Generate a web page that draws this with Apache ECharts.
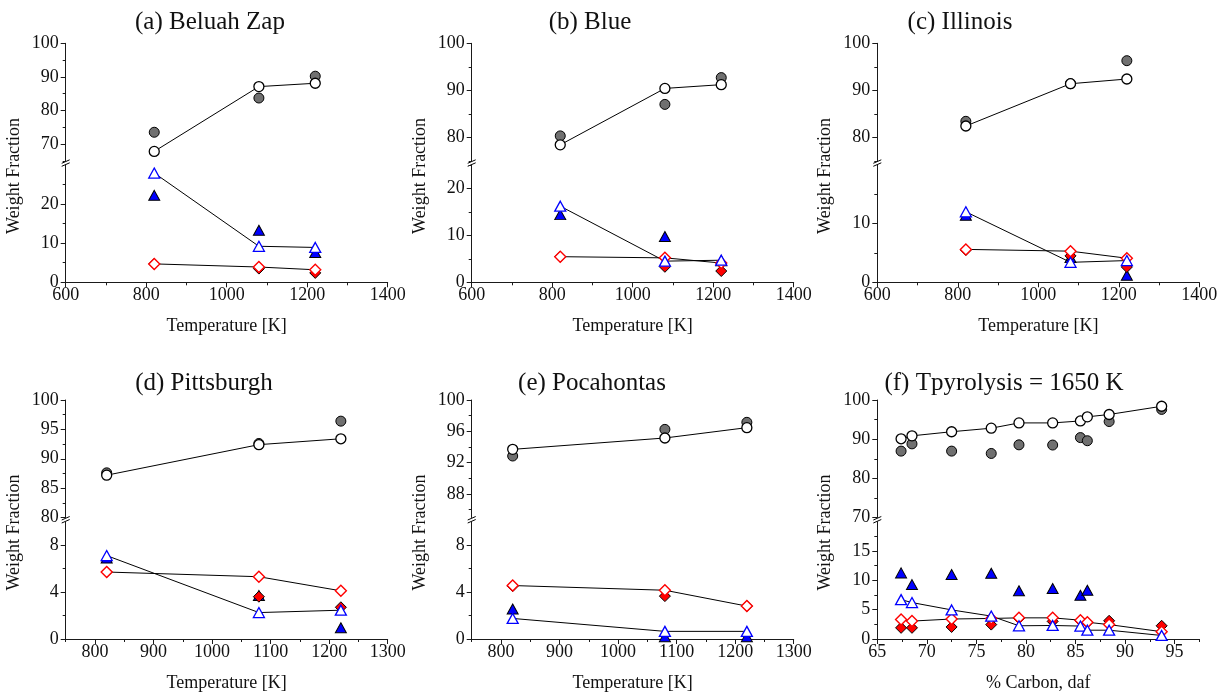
<!DOCTYPE html>
<html>
<head>
<meta charset="utf-8">
<script src="https://cdn.jsdelivr.net/npm/echarts@6/dist/echarts.min.js"></script>
<style>
  html, body { margin: 0; padding: 0; background: #fff; }
  #chart { width: 1224px; height: 695px; }
</style>
</head>
<body>
<div id="chart"></div>
<script>
// Run temperatures [K] and coal carbon contents [% daf]
const tempK = [820, 1080, 1220];
const carbonDaf = [67.4, 68.5, 72.5, 76.5, 79.3, 82.7, 85.5, 86.2, 88.4, 93.7];

// (a) Beluah Zap
const aCircleFilled = [73.5, 83.7, 90.2];
const aCircleOpen   = [67.8, 87.1, 88.1];
const aTriFilled    = [22.2, 13.3, 7.6];
const aTriOpen      = [27.9, 9.2, 8.9];
const aDiaFilled    = [4.7, 3.5, 2.4];
const aDiaOpen      = [4.7, 3.9, 3.2];
// (b) Blue
const bCircleFilled = [80.3, 87.0, 92.7];
const bCircleOpen   = [78.4, 90.4, 91.2];
const bTriFilled    = [14.4, 9.75, 4.6];
const bTriOpen      = [16.2, 4.5, 4.7];
const bDiaFilled    = [5.45, 3.3, 2.4];
const bDiaOpen      = [5.45, 5.2, 4.1];
// (c) Illinois
const cCircleFilled = [83.4, 91.4, 96.3];
const cCircleOpen   = [82.4, 91.4, 92.4];
const cTriFilled    = [11.4, 4.2, 1.2];
const cTriOpen      = [12.0, 3.4, 3.7];
const cDiaFilled    = [5.5, 4.5, 2.6];
const cDiaOpen      = [5.6, 5.3, 4.1];
// (d) Pittsburgh
const dCircleFilled = [87.6, 92.6, 96.4];
const dCircleOpen   = [87.2, 92.4, 93.4];
const dTriFilled    = [6.9, 3.7, 0.95];
const dTriOpen      = [7.1, 2.25, 2.45];
const dDiaFilled    = [5.7, 3.6, 2.7];
const dDiaOpen      = [5.7, 5.3, 4.1];
// (e) Pocahontas
const eCircleFilled = [92.85, 96.25, 97.15];
const eCircleOpen   = [93.7, 95.15, 96.47];
const eTriFilled    = [2.55, 0.2, 0.2];
const eTriOpen      = [1.75, 0.65, 0.65];
const eDiaFilled    = [4.5, 3.65, 2.8];
const eDiaOpen      = [4.55, 4.15, 2.8];
// (f) Tpyrolysis = 1650 K, against carbon content
const fCircleFilled = [86.95, 88.8, 86.95, 86.35, 88.55, 88.5, 90.4, 89.6, 94.5, 97.6];
const fCircleOpen   = [90.1, 90.85, 91.9, 92.8, 94.15, 94.15, 94.65, 95.7, 96.3, 98.4];
const fTriFilled    = [11.25, 9.26, 10.97, 11.2, 8.2, 8.6, 7.45, 8.3, null, null];
const fTriOpen      = [6.7, 6.2, 4.95, 3.9, 2.25, 2.3, 2.2, 1.5, 1.5, 0.6];
const fDiaFilled    = [1.9, 1.9, 2.05, 2.45, 3.5, 3.0, 3.1, 2.8, 3.1, 2.25];
const fDiaOpen      = [3.3, 3.05, 3.4, 3.5, 3.6, 3.6, 3.2, 2.85, 2.45, 1.25];

// Tick labels and minor tick positions
const tempTicksWide  = [600, 800, 1000, 1200, 1400];
const tempMinorWide  = [700, 900, 1100, 1300];
const tempTicksNarrow = [800, 900, 1000, 1100, 1200, 1300];
const tempMinorNarrow = [750, 850, 950, 1050, 1150, 1250];
const carbonTicks = [65, 70, 75, 80, 85, 90, 95];
const carbonMinor = [67.5, 72.5, 77.5, 82.5, 87.5, 92.5, 97.5];

const aUpperTicks = [70, 80, 90, 100], aUpperMinor = [65, 75, 85, 95];
const aLowerTicks = [0, 10, 20],       aLowerMinor = [5, 15, 25];
const bUpperTicks = [80, 90, 100],     bUpperMinor = [75, 85, 95];
const bLowerTicks = [0, 10, 20],       bLowerMinor = [5, 15, 25];
const cUpperTicks = [80, 90, 100],     cUpperMinor = [75, 85, 95];
const cLowerTicks = [0, 10],           cLowerMinor = [5, 15];
const dUpperTicks = [80, 85, 90, 95, 100], dUpperMinor = [82.5, 87.5, 92.5, 97.5];
const dLowerTicks = [0, 4, 8],         dLowerMinor = [2, 6];
const eUpperTicks = [88, 92, 96, 100], eUpperMinor = [86, 90, 94, 98];
const eLowerTicks = [0, 4, 8],         eLowerMinor = [2, 6];
const fUpperTicks = [70, 80, 90, 100], fUpperMinor = [75, 85, 95];
const fLowerTicks = [0, 5, 10, 15],    fLowerMinor = [2.5, 7.5, 12.5, 17.5];

const panels = [
  { title: '(a) Beluah Zap', titleX: 210, x: tempK, xRange: [600, 1400], xTicks: tempTicksWide, xMinor: tempMinorWide,
    xName: 'Temperature [K]', upper: [65, 100], upperTicks: aUpperTicks, upperMinor: aUpperMinor,
    lower: [0, 30], lowerTicks: aLowerTicks, lowerMinor: aLowerMinor,
    vals: [aCircleFilled, aCircleOpen, aTriFilled, aTriOpen, aDiaFilled, aDiaOpen] },
  { title: '(b) Blue', titleX: 590, x: tempK, xRange: [600, 1400], xTicks: tempTicksWide, xMinor: tempMinorWide,
    xName: 'Temperature [K]', upper: [75, 100], upperTicks: bUpperTicks, upperMinor: bUpperMinor,
    lower: [0, 25], lowerTicks: bLowerTicks, lowerMinor: bLowerMinor,
    vals: [bCircleFilled, bCircleOpen, bTriFilled, bTriOpen, bDiaFilled, bDiaOpen] },
  { title: '(c) Illinois', titleX: 960, x: tempK, xRange: [600, 1400], xTicks: tempTicksWide, xMinor: tempMinorWide,
    xName: 'Temperature [K]', upper: [75, 100], upperTicks: cUpperTicks, upperMinor: cUpperMinor,
    lower: [0, 20], lowerTicks: cLowerTicks, lowerMinor: cLowerMinor,
    vals: [cCircleFilled, cCircleOpen, cTriFilled, cTriOpen, cDiaFilled, cDiaOpen] },
  { title: '(d) Pittsburgh', titleX: 204, x: tempK, xRange: [750, 1300], xTicks: tempTicksNarrow, xMinor: tempMinorNarrow,
    xName: 'Temperature [K]', upper: [80, 100], upperTicks: dUpperTicks, upperMinor: dUpperMinor,
    lower: [0, 10], lowerTicks: dLowerTicks, lowerMinor: dLowerMinor,
    vals: [dCircleFilled, dCircleOpen, dTriFilled, dTriOpen, dDiaFilled, dDiaOpen] },
  { title: '(e) Pocahontas', titleX: 592, x: tempK, xRange: [750, 1300], xTicks: tempTicksNarrow, xMinor: tempMinorNarrow,
    xName: 'Temperature [K]', upper: [85, 100], upperTicks: eUpperTicks, upperMinor: eUpperMinor,
    lower: [0, 10], lowerTicks: eLowerTicks, lowerMinor: eLowerMinor,
    vals: [eCircleFilled, eCircleOpen, eTriFilled, eTriOpen, eDiaFilled, eDiaOpen] },
  { title: '(f) Tpyrolysis = 1650 K', titleX: 1004, x: carbonDaf, xRange: [65, 97.5], xTicks: carbonTicks, xMinor: carbonMinor,
    xName: '% Carbon, daf', upper: [70, 100], upperTicks: fUpperTicks, upperMinor: fUpperMinor,
    lower: [0, 20], lowerTicks: fLowerTicks, lowerMinor: fLowerMinor,
    vals: [fCircleFilled, fCircleOpen, fTriFilled, fTriOpen, fDiaFilled, fDiaOpen] }
];

// Page layout of the 3x2 panel grid
const FONT = '"Liberation Serif", "Times New Roman", serif';
const colLeft = [65.7, 471.7, 877.3];
const rowTop = [43.3, 400];
const plotW = 322;
const halfH = 117.5;
const lowerOffset = 121.5;
const ink = '#1a1a1a';
const plain = v => String(v);

const grids = [], xAxes = [], yAxes = [], series = [], graphics = [];

function labelStyle(ticks, margin) {
  return { show: true, customValues: ticks, formatter: plain, fontFamily: FONT, fontSize: 18, color: '#111', margin };
}
function majorAxis(gridIndex, position, range, ticks, extra) {
  return Object.assign({
    type: 'value', gridIndex, position, min: range[0], max: range[1],
    axisLine: { show: true, onZero: false, lineStyle: { color: ink, width: 1 } },
    axisTick: { show: true, inside: false, length: 5, customValues: ticks, lineStyle: { color: ink, width: 1 } },
    splitLine: { show: false }
  }, extra);
}
function minorAxis(gridIndex, position, range, ticks) {
  return {
    type: 'value', gridIndex, position, offset: 0, min: range[0], max: range[1],
    axisLine: { show: false, onZero: false },
    axisTick: { show: true, inside: false, length: 3, customValues: ticks, lineStyle: { color: ink, width: 1 } },
    axisLabel: { show: false },
    splitLine: { show: false }
  };
}

const styles = [
  { type: 'scatter', symbol: 'circle', size: 10, fill: '#707070', border: '#000', bw: 1, upper: true },
  { type: 'line', symbol: 'circle', size: 10, fill: '#fff', border: '#000', bw: 1.3, upper: true },
  { type: 'scatter', symbol: 'triangle', size: [11, 10], fill: '#0000ff', border: '#000', bw: 1, upper: false },
  { type: 'line', symbol: 'triangle', size: [11, 10], fill: '#fff', border: '#0000ff', bw: 1.3, upper: false },
  { type: 'scatter', symbol: 'diamond', size: [11, 11], fill: '#ff0000', border: '#000', bw: 1, upper: false },
  { type: 'line', symbol: 'diamond', size: [11, 11], fill: '#fff', border: '#ff0000', bw: 1.4, upper: false }
];
const names = ['Circle, filled', 'Circle, open', 'Triangle, filled', 'Triangle, open', 'Diamond, filled', 'Diamond, open'];
// filled markers first, open markers with their connecting lines on top
const drawOrder = [0, 2, 4, 5, 3, 1];

panels.forEach((p, i) => {
  const col = i % 3, row = Math.floor(i / 3);
  const left = colLeft[col], top = rowTop[row];
  const gU = grids.length;
  grids.push({ left, top, width: plotW, height: halfH });
  grids.push({ left, top: top + lowerOffset, width: plotW, height: halfH });
  const gL = gU + 1;

  const xU = xAxes.length;
  xAxes.push({ type: 'value', gridIndex: gU, position: 'bottom', min: p.xRange[0], max: p.xRange[1], show: false, splitLine: { show: false } });
  xAxes.push(majorAxis(gL, 'bottom', p.xRange, p.xTicks, {
    name: p.xName, nameLocation: 'middle', nameGap: 35,
    nameTextStyle: { fontFamily: FONT, fontSize: 18, color: '#111' },
    axisLabel: labelStyle(p.xTicks, 4)
  }));
  xAxes.push(minorAxis(gL, 'bottom', p.xRange, p.xMinor));
  const xL = xU + 1;

  const yU = yAxes.length;
  yAxes.push(majorAxis(gU, 'left', p.upper, p.upperTicks, { axisLabel: labelStyle(p.upperTicks, 7) }));
  yAxes.push(minorAxis(gU, 'left', p.upper, p.upperMinor));
  yAxes.push(majorAxis(gL, 'left', p.lower, p.lowerTicks, { axisLabel: labelStyle(p.lowerTicks, 7) }));
  yAxes.push(minorAxis(gL, 'left', p.lower, p.lowerMinor));
  const yL = yU + 2;

  drawOrder.forEach(k => {
    const st = styles[k];
    const data = p.x.map((xv, j) => [xv, p.vals[k][j]]).filter(d => d[1] !== null);
    const s = {
      name: names[k], type: st.type, data,
      xAxisIndex: st.upper ? xU : xL, yAxisIndex: st.upper ? yU : yL,
      symbol: st.symbol, symbolSize: st.size,
      itemStyle: { color: st.fill, borderColor: st.border, borderWidth: st.bw, opacity: 1 },
      emphasis: { disabled: true }, silent: true, animation: false, clip: false
    };
    if (st.type === 'line') {
      s.showSymbol = true;
      s.lineStyle = { color: '#000', width: 1 };
    }
    series.push(s);
  });

  // panel title
  graphics.push({
    type: 'text', x: p.titleX, y: row === 0 ? 22.6 : 383.3, silent: true,
    style: { text: p.title, font: '25px ' + FONT, fill: '#111', align: 'center', verticalAlign: 'middle' }
  });
  // rotated y-axis title
  graphics.push({
    type: 'text', x: left - 51.7, y: top + 132.6, rotation: Math.PI / 2, silent: true,
    style: { text: 'Weight Fraction', font: '18px ' + FONT, fill: '#111', align: 'center', verticalAlign: 'middle' }
  });
  // axis break marks "//"
  const by = top + halfH + 2;
  [0, 3].forEach(dy => {
    graphics.push({
      type: 'line', silent: true,
      shape: { x1: left - 4, y1: by + dy + 0.5, x2: left + 4, y2: by + dy - 3 },
      style: { stroke: '#000', lineWidth: 1 }
    });
  });
});

const chart = echarts.init(document.getElementById('chart'), null, { renderer: 'canvas' });
chart.setOption({
  backgroundColor: '#fff',
  animation: false,
  grid: grids,
  xAxis: xAxes,
  yAxis: yAxes,
  series,
  graphic: graphics
});
</script>
</body>
</html>
